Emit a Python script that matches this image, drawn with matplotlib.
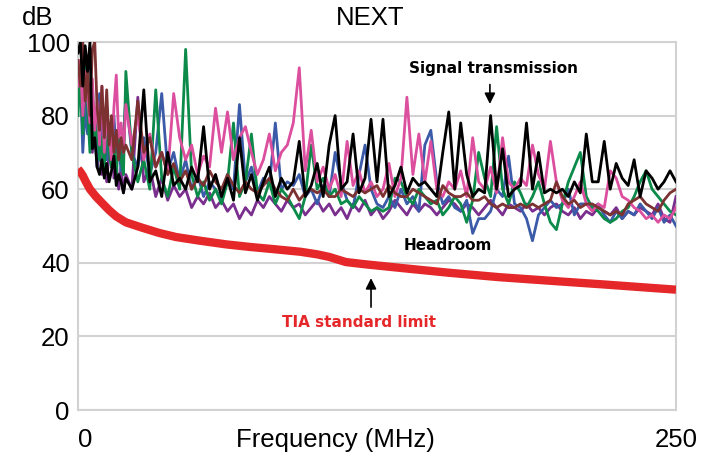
import numpy as np
import matplotlib
matplotlib.use("Agg")
from matplotlib import pyplot as plt

# sweep points (MHz): 1 MHz steps up to 20, then 2.5 MHz steps
freq = np.concatenate([np.arange(0, 21), np.arange(22.5, 250.1, 2.5)])

black = [97, 100, 88, 99, 92, 100, 71, 74, 66, 64, 68, 63, 67, 62, 65, 69, 61, 64, 62, 59, 63,
         60, 66, 87, 62, 65, 58, 70, 61, 63, 60,
         66, 62, 77, 60, 64, 58, 63, 57, 74, 59,
         64, 57, 62, 66, 58, 63, 60, 62, 73, 58,
         61, 67, 58, 72, 80, 60, 62, 75, 59, 63,
         79, 62, 79, 58, 61, 66, 59, 63, 61, 62,
         60, 58, 70, 81, 60, 78, 64, 58, 60, 59,
         80, 60, 71, 58, 60, 61, 78, 60, 70, 59,
         60, 59, 60, 58, 62, 59, 75, 62, 62, 73,
         60, 67, 63, 61, 68, 58, 65, 63, 60, 62,
         65, 62]
pink = [88, 95, 80, 92, 85, 78, 90, 76, 84, 72, 88, 70, 80, 75, 68, 82, 91, 74, 78, 70, 83,
        72, 80, 68, 75, 66, 70, 64, 86, 74, 68,
        72, 64, 69, 66, 82, 70, 81, 68, 74, 77,
        70, 64, 68, 75, 65, 70, 72, 78, 93, 65,
        76, 62, 66, 60, 64, 58, 73, 61, 65, 59,
        62, 58, 60, 67, 58, 63, 85, 64, 75, 62,
        73, 60, 58, 62, 60, 65, 58, 74, 62, 60,
        66, 59, 74, 62, 60, 63, 61, 72, 64, 60,
        73, 62, 57, 55, 58, 62, 56, 54, 56, 55,
        65, 63, 58, 57, 55, 54, 52, 53, 51, 53,
        52, 55]
green = [80, 92, 75, 95, 82, 70, 88, 72, 78, 68, 74, 65, 80, 70, 66, 72, 63, 75, 68, 64, 92,
         70, 62, 68, 60, 87, 63, 58, 66, 60, 98,
         64, 58, 62, 57, 60, 56, 62, 78, 58, 62,
         75, 59, 57, 62, 56, 60, 58, 55, 52, 58,
         72, 60, 63, 58, 60, 56, 57, 55, 58, 56,
         54, 55, 54, 55, 63, 62, 58, 56, 60, 58,
         56, 57, 53, 55, 58, 56, 51, 57, 70, 63,
         58, 77, 60, 56, 62, 59, 55, 58, 62, 56,
         51, 49, 56, 62, 66, 70, 58, 55, 54, 52,
         51, 52, 54, 55, 58, 62, 65, 60, 58, 56,
         54, 53]
blue = [85, 90, 70, 82, 75, 88, 72, 80, 66, 86, 70, 78, 68, 74, 66, 80, 70, 72, 65, 74, 85,
        70, 66, 74, 64, 70, 86, 65, 70, 62, 68,
        60, 64, 58, 62, 60, 57, 64, 60, 83, 62,
        66, 59, 63, 61, 78, 60, 62, 61, 64, 58,
        60, 56, 61, 58, 70, 62, 57, 55, 64, 72,
        60, 56, 55, 58, 55, 60, 56, 58, 54, 72,
        76, 62, 56, 58, 55, 54, 57, 48, 52, 52,
        54, 60, 58, 69, 56, 55, 52, 46, 53, 55,
        57, 55, 56, 60, 53, 56, 56, 55, 56, 53,
        51, 54, 52, 54, 53, 56, 54, 52, 55, 51,
        53, 50]
purple = [90, 85, 92, 78, 88, 74, 70, 76, 66, 72, 64, 68, 62, 70, 78, 63, 67, 60, 66, 59, 64,
          60, 85, 62, 66, 58, 63, 57, 61, 58, 60,
          55, 58, 56, 59, 55, 57, 54, 56, 52, 55,
          53, 57, 55, 58, 56, 54, 57, 55, 56, 53,
          55, 57, 54, 56, 53, 55, 52, 56, 54, 57,
          53, 55, 52, 54, 57, 55, 53, 56, 54, 56,
          55, 53, 55, 57, 56, 54, 56, 55, 53, 55,
          57, 55, 53, 56, 55, 54, 56, 54, 55, 53,
          55, 56, 54, 53, 55, 52, 54, 53, 55, 54,
          53, 55, 52, 54, 53, 55, 54, 53, 56, 52,
          51, 58]
brown = [95, 88, 100, 84, 92, 80, 98, 100, 82, 76, 88, 74, 87, 72, 80, 70, 76, 68, 74, 70, 72,
         68, 84, 70, 74, 66, 70, 64, 67, 62, 65,
         60, 63, 61, 65, 62, 60, 64, 61, 59, 62,
         60, 59, 61, 63, 60, 58, 57, 60, 57, 59,
         60, 59, 60, 58, 58, 60, 59, 58, 60, 59,
         60, 61, 58, 61, 59, 58, 58, 60, 59, 58,
         57, 56, 61, 59, 58, 58, 59, 57, 57, 58,
         56, 55, 56, 55, 55, 56, 55, 56, 55, 56,
         57, 62, 58, 56, 57, 55, 56, 56, 55, 54,
         53, 54, 53, 56, 57, 58, 56, 55, 54, 57,
         59, 60]

tia_freq = [0, 1, 2, 3.3, 5, 7.5, 10, 13, 16, 20, 27, 34, 41, 51, 62, 72, 82, 93, 100,
            105, 112, 120, 135, 155, 176, 200, 218, 235, 250]
tia_db = [65.5, 64.7, 63.7, 62, 60, 58, 56.3, 54.3, 52.6, 51, 49.5, 48.1, 47, 46, 45, 44.3,
          43.7, 43, 42.3, 41.6, 40.2, 39.6, 38.6, 37.3, 36.1, 35, 34.2, 33.4, 32.7]

series = [(purple, "#7a2e8e"), (blue, "#3b5ba8"), (green, "#0b8a4a"),
          (pink, "#dc4f9f"), (brown, "#7d3232"), (black, "#000000")]

W, H = 705, 461
fig = plt.figure(figsize=(W / 100, H / 100), dpi=100)
ax = fig.add_axes([78 / W, 51 / H, 598 / W, 368 / H])

for vals, col in series:
    ax.plot(freq, vals, color=col, lw=2.0, zorder=3)
ax.plot(tia_freq, tia_db, color="#e5272a", lw=6, solid_capstyle="butt", zorder=4)

ax.set_xlim(0, 250)
ax.set_ylim(0, 100)
ax.set_yticks([0, 20, 40, 60, 80, 100])
ax.set_yticklabels(["0", "20", "40", "60", "80", "100"], fontsize=18.5, family="Liberation Sans")
ax.set_xticks([0, 250])
ax.set_xticklabels(["0", "250"], fontsize=18.5, family="Liberation Sans")
ax.get_xticklabels()[0].set_ha("left")
ax.tick_params(length=0)
ax.tick_params(axis="y", pad=6)
ax.tick_params(axis="x", pad=13)
ax.grid(axis="y", color="#d2d2d2", lw=1.5, zorder=1)
for s in ax.spines.values():
    s.set_color("#d2d2d2")
    s.set_linewidth(1.5)

fig.text(38 / W, 1 - 18 / H, "dB", fontsize=18.5, family="Liberation Sans", ha="center", va="center")
fig.text(370 / W, 1 - 18 / H, "NEXT", fontsize=18.5, family="Liberation Sans", ha="center", va="center")
fig.text(335 / W, 1 - 440 / H, "Frequency (MHz)", fontsize=18.5, family="Liberation Sans",
         ha="center", va="center")

ax.text(173.5, 92.9, "Signal transmission", fontsize=11, fontweight="bold",
        ha="center", va="center", zorder=5)
ax.annotate("", xy=(172.2, 82.4), xytext=(172.2, 89.2),
            arrowprops=dict(arrowstyle="-|>", color="black", lw=1.2, mutation_scale=16))
ax.text(154.7, 44.8, "Headroom", fontsize=11, fontweight="bold", ha="center", va="center", zorder=5)
ax.text(117.5, 23.9, "TIA standard limit", fontsize=11, fontweight="bold", color="#e5272a",
        ha="center", va="center", zorder=5)
ax.annotate("", xy=(122.5, 36.6), xytext=(122.5, 27.2),
            arrowprops=dict(arrowstyle="-|>", color="black", lw=1.2, mutation_scale=16))

fig.savefig("out.png", dpi=100)
